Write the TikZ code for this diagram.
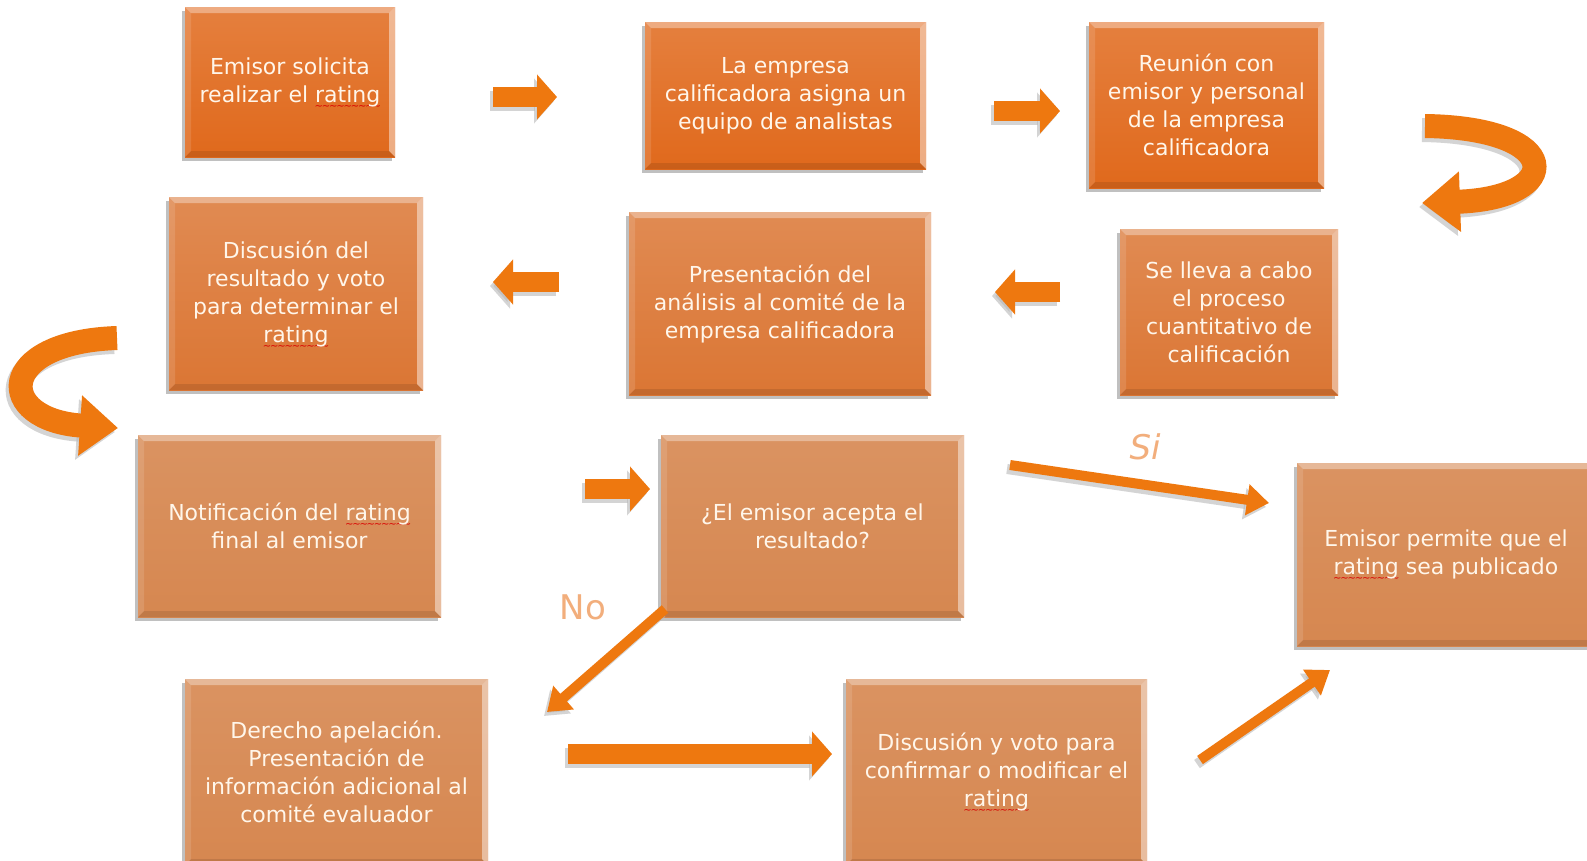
\documentclass[tikz,border=0pt]{standalone}
\usepackage{fontspec}
\setmainfont{DejaVu Sans}
\usetikzlibrary{arrows.meta,shadows,calc}
\definecolor{rowA}{HTML}{E0691C}
\definecolor{rowB}{HTML}{DB7634}
\definecolor{rowC}{HTML}{D68750}
\definecolor{txt}{HTML}{FFF6EA}
\definecolor{arr}{HTML}{EE780F}
\definecolor{arrsh}{HTML}{B8B8B8}
\definecolor{lbl}{HTML}{F2AE7C}
\newsavebox{\rtbox}
\newcommand{\rt}{\leavevmode\sbox{\rtbox}{rating}\rlap{\raisebox{-7pt}[0pt][0pt]{\color{red!85!black}\fontsize{10}{10}\selectfont\hbox to \wd\rtbox{\xleaders\hbox{\kern-0.6pt∼\kern-0.6pt}\hfill}}}\usebox{\rtbox}}
\tikzset{
  boxbase/.style={rectangle, inner sep=4pt, outer sep=0pt, align=center, text=txt,
    font=\fontsize{22}{28}\selectfont,
    drop shadow={shadow xshift=-3pt, shadow yshift=-4pt, opacity=.35, fill=black!70},
    path picture={
      \fill[white,opacity=.35] (path picture bounding box.north west) -- (path picture bounding box.north east) -- ([xshift=-6pt,yshift=-6pt]path picture bounding box.north east) -- ([xshift=6pt,yshift=-6pt]path picture bounding box.north west) -- cycle;
      \fill[white,opacity=.45] (path picture bounding box.north east) -- (path picture bounding box.south east) -- ([xshift=-6pt,yshift=6pt]path picture bounding box.south east) -- ([xshift=-6pt,yshift=-6pt]path picture bounding box.north east) -- cycle;
      \fill[black,opacity=.10] (path picture bounding box.south west) -- (path picture bounding box.south east) -- ([xshift=-6pt,yshift=6pt]path picture bounding box.south east) -- ([xshift=6pt,yshift=6pt]path picture bounding box.south west) -- cycle;
      \fill[white,opacity=.12] (path picture bounding box.north west) -- (path picture bounding box.south west) -- ([xshift=6pt,yshift=6pt]path picture bounding box.south west) -- ([xshift=6pt,yshift=-6pt]path picture bounding box.north west) -- cycle;
    }},
  boxA/.style={boxbase, top color=rowA!85!white, bottom color=rowA},
  boxB/.style={boxbase, top color=rowB!85!white, bottom color=rowB},
  boxC/.style={boxbase, top color=rowC!90!white, bottom color=rowC},
  barrow/.style={draw=arr, line width=20pt, -{Triangle[width=44pt,length=20pt]}},
  barrowsh/.style={draw=arrsh, line width=20pt, -{Triangle[width=44pt,length=20pt]}, opacity=.6},
  tarrow/.style={draw=arr, line width=10pt, -{Triangle[width=30pt,length=22pt]}},
  tarrowsh/.style={draw=arrsh, line width=10pt, -{Triangle[width=30pt,length=22pt]}, opacity=.6},
  carrow/.style={draw=arr, line width=24pt, -{Triangle[width=58pt,length=38pt]}},
  carrowsh/.style={draw=arrsh, line width=24pt, -{Triangle[width=58pt,length=38pt]}, opacity=.6},
  lab/.style={text=lbl, font=\fontsize{34}{40}\selectfont, inner sep=0pt}
}
\begin{document}
\begin{tikzpicture}[x=1pt,y=-1pt]
\clip (0,0) rectangle (1587,860);
\fill[white] (0,0) rectangle (1587,860);

% boxes
\node[boxA, minimum width=210pt, minimum height=150pt] (n1) at (290,82) {Emisor solicita\\realizar el \rt};
\node[boxA, minimum width=281pt, minimum height=147pt] (n2) at (785.5,95.5) {La empresa\\calificadora asigna un\\equipo de analistas};
\node[boxA, minimum width=235pt, minimum height=166pt] (n3) at (1206.5,105) {Reunión con\\emisor y personal\\de la empresa\\calificadora};
\node[boxB, minimum width=218pt, minimum height=166pt] (n4) at (1229,312) {Se lleva a cabo\\el proceso\\cuantitativo de\\calificación};
\node[boxB, minimum width=302pt, minimum height=183pt] (n5) at (780,303.5) {Presentación del\\análisis al comité de la\\empresa calificadora};
\node[boxB, minimum width=254pt, minimum height=193pt] (n6) at (296,293.5) {Discusión del\\resultado y voto\\para determinar el\\\rt};
\node[boxC, minimum width=303pt, minimum height=182pt] (n7) at (289.5,526) {Notificación del \rt\\final al emisor};
\node[boxC, minimum width=303pt, minimum height=182pt] (n8) at (812.5,526) {¿El emisor acepta el\\resultado?};
\node[boxC, minimum width=298pt, minimum height=183pt] (n9) at (1446,554.5) {Emisor permite que el\\\rt{} sea publicado};
\node[boxC, minimum width=303pt, minimum height=186pt] (n10) at (336.5,772) {Derecho apelación.\\Presentación de\\información adicional al\\comité evaluador};
\node[boxC, minimum width=301pt, minimum height=186pt] (n11) at (996.5,772) {Discusión y voto para\\confirmar o modificar el\\\rt};

% arrow end points
\coordinate (a1s) at (493,97);   \coordinate (a1e) at (557,97);
\coordinate (a2s) at (994,111);  \coordinate (a2e) at (1060,111);
\coordinate (a3s) at (1060,292); \coordinate (a3e) at (995,292);
\coordinate (a4s) at (559,282);  \coordinate (a4e) at (493,282);
\coordinate (a5s) at (585,489);  \coordinate (a5e) at (650,489);
\coordinate (sis) at (1010,465); \coordinate (sie) at (1269,503);
\coordinate (nos) at (665,609);  \coordinate (noe) at (547,712);
\coordinate (bts) at (568,754);  \coordinate (bte) at (832,754);
\coordinate (ups) at (1200,760); \coordinate (upe) at (1330,670);
\coordinate (c1s) at (1425,126); \coordinate (c1e) at (1422,203);
\coordinate (c2s) at (117,338);  \coordinate (c2e) at (118,428);

% shadows of arrows
\begin{scope}[transform canvas={shift={(-3pt,-4pt)}}]
\draw[barrowsh] (a1s) -- (a1e);
\draw[barrowsh] (a2s) -- (a2e);
\draw[barrowsh] (a3s) -- (a3e);
\draw[barrowsh] (a4s) -- (a4e);
\draw[barrowsh] (a5s) -- (a5e);
\draw[barrowsh] (bts) -- (bte);
\draw[tarrowsh] (sis) -- (sie);
\draw[tarrowsh] (nos) -- (noe);
\draw[tarrowsh] (ups) -- (upe);
\draw[carrowsh] (c1s) .. controls (1565,128) and (1565,198) .. (c1e);
\draw[carrowsh] (c2s) .. controls (-5,342) and (-5,420) .. (c2e);
\end{scope}

% arrows
\draw[barrow] (a1s) -- (a1e);
\draw[barrow] (a2s) -- (a2e);
\draw[barrow] (a3s) -- (a3e);
\draw[barrow] (a4s) -- (a4e);
\draw[barrow] (a5s) -- (a5e);
\draw[barrow] (bts) -- (bte);
\draw[tarrow] (sis) -- (sie);
\draw[tarrow] (nos) -- (noe);
\draw[tarrow] (ups) -- (upe);
\draw[carrow] (c1s) .. controls (1565,128) and (1565,198) .. (c1e);
\draw[carrow] (c2s) .. controls (-5,342) and (-5,420) .. (c2e);

% labels
\node[lab, font=\fontsize{34}{40}\selectfont\itshape] (si) at (1145,447) {Si};
\node[lab] (no) at (583,607) {No};
\end{tikzpicture}
\end{document}
